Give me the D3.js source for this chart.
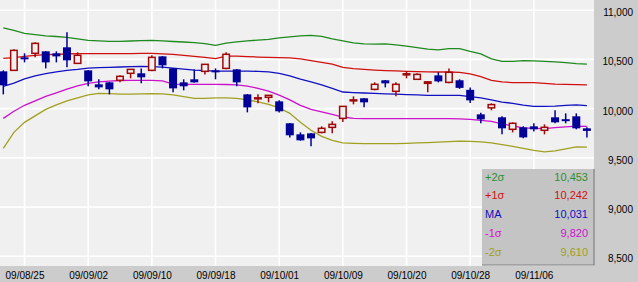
<html>
<head>
<meta charset="utf-8">
<style>
body { margin:0; background:#cccccc; }
svg { display:block; font-family:"Liberation Sans", Arial, sans-serif; }
</style>
</head>
<body>
<script src="https://d3js.org/d3.v7.min.js"></script>
<script>
// trading days (yy/mm/dd)
var dates = ["09/08/21","09/08/24","09/08/25","09/08/26","09/08/27","09/08/28","09/08/31","09/09/01","09/09/02","09/09/03",
	"09/09/04","09/09/07","09/09/08","09/09/09","09/09/10","09/09/11","09/09/14","09/09/15","09/09/16","09/09/17",
	"09/09/18","09/09/24","09/09/25","09/09/28","09/09/29","09/09/30","09/10/01","09/10/02","09/10/05","09/10/06",
	"09/10/07","09/10/08","09/10/09","09/10/13","09/10/14","09/10/15","09/10/16","09/10/19","09/10/20","09/10/21",
	"09/10/22","09/10/23","09/10/26","09/10/27","09/10/28","09/10/29","09/10/30","09/11/02","09/11/04","09/11/05",
	"09/11/06","09/11/09","09/11/10","09/11/11","09/11/12","09/11/13"];

// candles
var openV = [10379,10389,10521,10562,10582,10562,10623,10460,10389,10247,
	10267,10288,10359,10359,10389,10531,10409,10267,10298,10379,
	10389,10409,10399,10145,10100,10115,10074,9851,9739,9749,
	9759,9810,9901,10079,10105,10196,10288,10176,10343,10298,
	10257,10338,10267,10288,10191,9942,10008,9912,9790,9810,
	9820,9780,9912,9893,9922,9800];
var highV = [10389,10603,10562,10674,10585,10582,10775,10572,10392,10298,
	10270,10338,10402,10409,10542,10535,10412,10298,10399,10453,
	10409,10572,10402,10148,10145,10138,10084,9854,9759,9752,
	9820,9871,10026,10125,10108,10267,10291,10267,10379,10359,
	10275,10369,10409,10298,10216,9957,10054,9922,9861,9820,
	9851,9840,9983,9952,9952,9810];
var lowV = [10145,10385,10470,10521,10409,10470,10420,10455,10227,10196,
	10145,10267,10308,10257,10379,10409,10166,10186,10264,10348,
	10298,10399,10227,9962,10054,10064,9962,9708,9675,9617,
	9749,9749,9865,10044,10013,10186,10216,10125,10308,10295,
	10166,10267,10257,10201,10057,9851,9983,9739,9759,9698,
	9769,9739,9851,9851,9790,9708];
var closeV = [10237,10592,10501,10663,10470,10531,10491,10542,10277,10216,
	10196,10328,10399,10318,10521,10440,10206,10227,10267,10450,
	10379,10552,10267,10013,10110,10135,9973,9729,9678,9698,
	9800,9840,10023,10089,10064,10247,10257,10247,10354,10348,
	10272,10277,10369,10211,10084,9891,10041,9800,9851,9708,
	9790,9810,9861,9886,9800,9774];

// bollinger bands
var up2 = [10820,10795,10765,10752,10740,10733,10724,10709,10694,10689,
	10684,10684,10687,10691,10694,10689,10682,10677,10671,10660,
	10643,10666,10679,10689,10696,10704,10719,10730,10740,10745,
	10735,10709,10689,10669,10658,10655,10658,10648,10636,10620,
	10605,10597,10610,10610,10582,10557,10506,10481,10481,10488,
	10486,10481,10476,10467,10457,10453];
var up1 = [10511,10518,10531,10542,10549,10552,10555,10559,10559,10559,
	10559,10559,10559,10562,10562,10557,10552,10542,10531,10521,
	10508,10533,10533,10529,10524,10521,10518,10516,10506,10488,
	10470,10452,10420,10406,10399,10392,10387,10383,10379,10376,
	10373,10372,10372,10369,10354,10325,10288,10272,10264,10264,
	10264,10257,10250,10247,10244,10242];
var ma = [10227,10259,10303,10333,10356,10374,10389,10399,10412,10417,
	10420,10423,10427,10430,10427,10422,10412,10401,10392,10386,
	10382,10382,10382,10381,10379,10374,10359,10333,10300,10272,
	10242,10206,10169,10163,10159,10155,10151,10147,10143,10139,
	10135,10135,10135,10135,10123,10110,10089,10067,10054,10036,
	10023,10023,10026,10034,10038,10031];
var dn1 = [9901,9973,10034,10079,10125,10161,10198,10232,10257,10272,
	10280,10286,10288,10288,10288,10282,10250,10247,10247,10247,
	10247,10245,10241,10229,10206,10178,10137,10089,10034,9993,
	9967,9942,9915,9901,9898,9898,9898,9898,9898,9898,
	9898,9898,9898,9896,9891,9881,9871,9846,9825,9805,
	9800,9797,9807,9815,9822,9820];
var dn2 = [9597,9759,9861,9927,9993,10039,10079,10110,10140,10155,
	10152,10147,10147,10150,10152,10150,10140,10122,10105,10105,
	10110,10110,10105,10089,10069,10044,10008,9952,9861,9780,
	9719,9678,9652,9647,9644,9644,9644,9644,9647,9652,
	9655,9660,9665,9670,9668,9663,9652,9634,9617,9597,
	9576,9561,9571,9592,9612,9610];

// ticks
var yTicks = [8500,9000,9500,10000,10500,11000];
var xTicks = ["09/08/25","09/09/02","09/09/10","09/09/18","09/10/01","09/10/09","09/10/20","09/10/28","09/11/06"];

var bands = [
	{name:"+2\u03c3", values:up2, color:"#1f8a1f", text:"#2f8f2f"},
	{name:"+1\u03c3", values:up1, color:"#d01010", text:"#d01010"},
	{name:"MA", values:ma, color:"#1010c0", text:"#1010c0"},
	{name:"-1\u03c3", values:dn1, color:"#cc10cc", text:"#d010d0"},
	{name:"-2\u03c3", values:dn2, color:"#a0a020", text:"#a0a020"}
];

var W = 638, H = 282, plotW = 594, plotH = 266;
var bg = "#f0f0f0";

var svg = d3.select("body").append("svg")
	.attr("width", W)
	.attr("height", H);

svg.append("rect").attr("width", W).attr("height", H).attr("fill", "#cccccc");
svg.append("rect").attr("width", plotW).attr("height", plotH).attr("fill", bg);

svg.append("clipPath").attr("id", "clip")
	.append("rect").attr("width", plotW).attr("height", plotH);

var x = d3.scalePoint().domain(dates).range([3.3, 586.9]);
var y = d3.scaleLinear().domain([8500, 11000]).range([256.3, 10.2]);

var plot = svg.append("g").attr("clip-path", "url(#clip)");

// grid
plot.selectAll("line.hgrid")
	.data(yTicks)
	.enter().append("line")
	.attr("class", "hgrid")
	.attr("x1", 0).attr("x2", plotW)
	.attr("y1", function(d){return y(d)})
	.attr("y2", function(d){return y(d)})
	.attr("stroke", "#ffffff").attr("stroke-width", 1.6);
plot.selectAll("line.vgrid")
	.data(xTicks)
	.enter().append("line")
	.attr("class", "vgrid")
	.attr("x1", function(d){return x(d)})
	.attr("x2", function(d){return x(d)})
	.attr("y1", 0).attr("y2", plotH)
	.attr("stroke", "#ffffff").attr("stroke-width", 1.6);

// bands
var line = d3.line()
	.x(function(d, i){return x(dates[i])})
	.y(function(d){return y(d)});
plot.selectAll("path.band")
	.data(bands)
	.enter().append("path")
	.attr("class", "band")
	.attr("d", function(d){return line(d.values)})
	.attr("fill", "none")
	.attr("stroke", function(d){return d.color})
	.attr("stroke-width", 1.3);

// candles
var candles = dates.map(function(d, i){
	return {date:d, o:openV[i], h:highV[i], l:lowV[i], c:closeV[i], up:closeV[i] >= openV[i]};
});
var cg = plot.selectAll("g.candle")
	.data(candles)
	.enter().append("g")
	.attr("class", "candle");
cg.append("line")
	.attr("x1", function(d){return x(d.date)})
	.attr("x2", function(d){return x(d.date)})
	.attr("y1", function(d){return y(d.h)})
	.attr("y2", function(d){return y(d.l)})
	.attr("stroke", function(d){return d.up ? "#a00808" : "#000099"})
	.attr("stroke-width", 1.5);
cg.append("rect")
	.attr("x", function(d){return d.up ? x(d.date) - 3.25 : x(d.date) - 4})
	.attr("width", function(d){return d.up ? 6.5 : 8})
	.attr("y", function(d){return y(Math.max(d.o, d.c))})
	.attr("height", function(d){return Math.max(d.up ? 1 : 2, Math.abs(y(d.o) - y(d.c)))})
	.attr("fill", function(d){return d.up ? bg : "#000099"})
	.attr("stroke", function(d){return d.up ? "#a00808" : "none"})
	.attr("stroke-width", 1.5);

// y axis on the right
var yAxis = svg.append("g")
	.attr("transform", "translate(" + plotW + ",0)")
	.call(d3.axisRight(y).tickValues(yTicks).tickFormat(d3.format(",")).tickSize(0));
yAxis.select(".domain").remove();
yAxis.selectAll("text")
	.attr("x", 39)
	.attr("dy", "0.55em")
	.attr("text-anchor", "end")
	.attr("fill", "#000")
	.style("font-size", "10px")
	.style("font-family", "'Liberation Sans', Arial, sans-serif");

// x axis
var xAxis = svg.append("g")
	.attr("transform", "translate(0," + plotH + ")")
	.call(d3.axisBottom(x).tickValues(xTicks).tickSize(0));
xAxis.select(".domain").remove();
xAxis.selectAll("text")
	.attr("y", 5.5)
	.attr("fill", "#000")
	.style("font-size", "10px")
	.style("font-family", "'Liberation Sans', Arial, sans-serif");

// legend box
var lg = svg.append("g");
lg.append("rect")
	.attr("x", 482).attr("y", 169)
	.attr("width", 112).attr("height", 96)
	.attr("fill", "#c4c4c4");
lg.append("path")
	.attr("d", "M594,169V265H482")
	.attr("fill", "none")
	.attr("stroke", "#808080")
	.attr("stroke-width", 1.2);
var fmt = d3.format(",");
var rows = lg.selectAll("g.row")
	.data(bands)
	.enter().append("g")
	.attr("class", "row")
	.attr("transform", function(d, i){return "translate(0," + (176.8 + i * 18.7) + ")"});
rows.append("text")
	.attr("x", 485)
	.attr("dy", "0.36em")
	.attr("fill", function(d){return d.text})
	.style("font-size", "11px")
	.text(function(d){return d.name});
rows.append("text")
	.attr("x", 588)
	.attr("dy", "0.36em")
	.attr("text-anchor", "end")
	.attr("fill", function(d){return d.text})
	.style("font-size", "11px")
	.text(function(d){return fmt(d.values[d.values.length - 1])});
</script>
</body>
</html>
